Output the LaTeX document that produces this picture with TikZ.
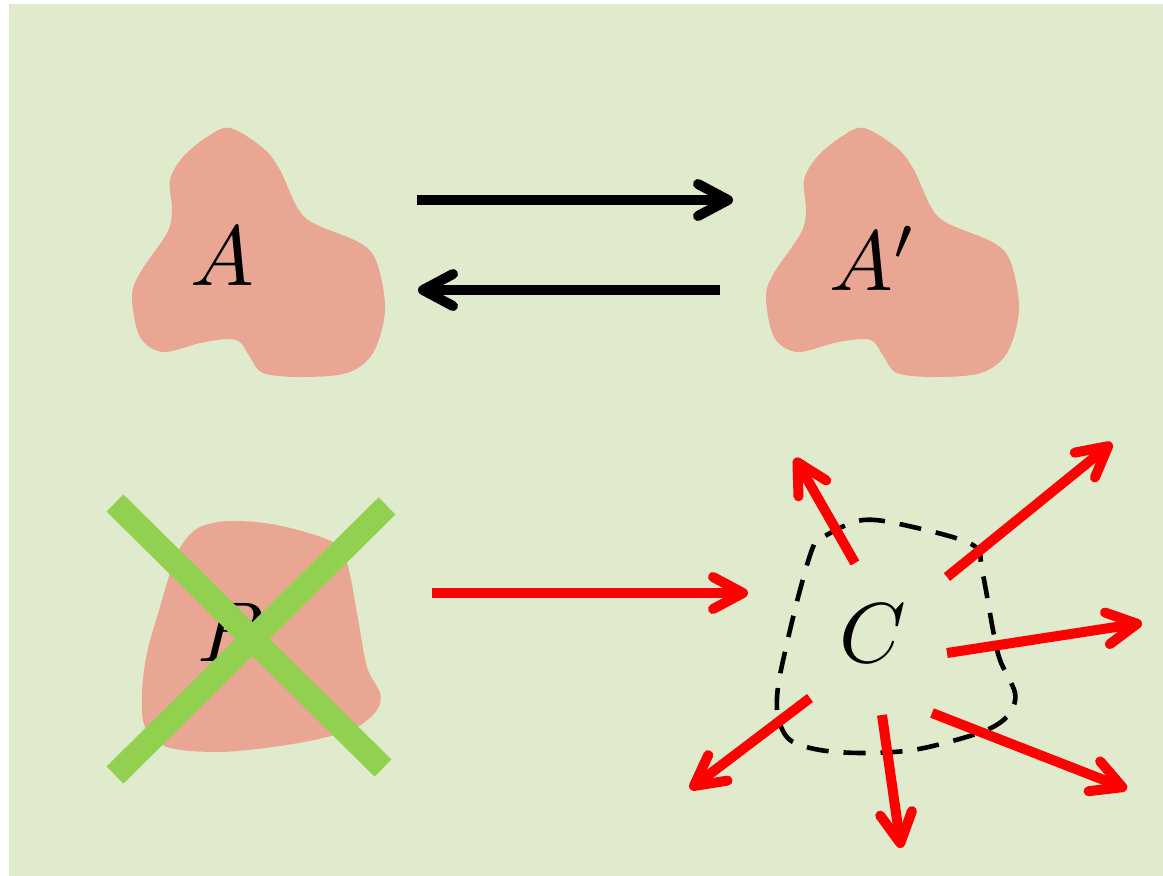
\documentclass[tikz,border=0pt]{standalone}
\usetikzlibrary{arrows.meta}
\definecolor{bgcol}{HTML}{E0EACD}
\definecolor{blobcol}{HTML}{E9A793}
\definecolor{crosscol}{HTML}{92D050}
\definecolor{raycol}{HTML}{FF0000}
\begin{document}
\begin{tikzpicture}[x=1pt,y=-1pt,
  blob/.style={fill=blobcol, draw=none},
  lbl/.style={scale=8.5, inner sep=0pt},
  barb/.style={-{Straight Barb[length=30pt,width=32pt,line cap=round,line join=round]}},
  blackarrow/.style={line width=10pt, barb},
  redarrow/.style={line width=10pt, draw=raycol, barb},
  crossbar/.style={line width=24pt, draw=crosscol},
  region/.style={line width=4.6pt, dash pattern=on 22pt off 15pt}]

\useasboundingbox (0,0) rectangle (1163,876);
\fill[white] (0,0) rectangle (1163,876);
\fill[bgcol] (9,4) rectangle (1163,876);

% blob A and its copy A'
\foreach \dx in {0,634}{
  \begin{scope}[xshift=\dx pt]
  \fill[blob] plot[smooth cycle, tension=0.55] coordinates {
    (230,128) (263,148) (280,170) (297,207) (313,223) (360,243) (377,263)
    (385,310) (373,353) (347,373) (300,377) (263,373) (250,357) (240,342)
    (227,339) (200,343) (163,352) (140,337) (132,297) (140,273) (167,233)
    (172,210) (170,180) (183,157) (207,137)};
  \end{scope}}
\node[lbl] (A) at (222,256) {$A$};
\node[lbl, anchor=base west] (Ap) at (828,290) {$A'$};

% blob B, struck out
\fill[blob] plot[smooth cycle, tension=0.55] coordinates {
  (200,527) (230,521) (277,525) (333,542) (347,563) (357,613) (367,667)
  (380,693) (377,710) (357,727) (323,738) (273,747) (217,752) (167,747)
  (145,727) (142,693) (147,653) (160,607) (172,567) (183,543)};
\node[lbl] (B) at (232,632) {$B$};
\coordinate (x1) at (115,503);
\coordinate (x2) at (383,768);
\coordinate (x3) at (387,506);
\coordinate (x4) at (115,775);
\draw[crossbar] (x1) -- (x2);
\draw[crossbar] (x3) -- (x4);

% region C
\draw[region] plot[smooth cycle, tension=0.55] coordinates {
  (823,537) (863,520) (913,527) (973,545) (982,570) (993,630) (1000,660)
  (1015,693) (1010,713) (993,727) (963,738) (913,750) (863,753) (820,750)
  (790,740) (778,717) (778,687) (787,643) (800,590) (813,547)};
\node[lbl] (C) at (873,633) {$C$};

% arrows between A and A'
\coordinate (ab1) at (417,200);
\coordinate (ab2) at (733,200);
\coordinate (ba1) at (720,290);
\coordinate (ba2) at (418,290);
\draw[blackarrow] (ab1) -- (ab2);
\draw[blackarrow] (ba1) -- (ba2);

% B leads to C
\coordinate (bc1) at (432,593);
\coordinate (bc2) at (748,593);
\draw[redarrow] (bc1) -- (bc2);

% rays leaving C
\coordinate (r1s) at (855,563); \coordinate (r1e) at (795,458);
\coordinate (r2s) at (947,577); \coordinate (r2e) at (1112,443);
\coordinate (r3s) at (947,653); \coordinate (r3e) at (1142,623);
\coordinate (r4s) at (932,713); \coordinate (r4e) at (1127,789);
\coordinate (r5s) at (882,715); \coordinate (r5e) at (901,848);
\coordinate (r6s) at (810,698); \coordinate (r6e) at (690,789);
\foreach \i in {1,...,6}{\draw[redarrow] (r\i s) -- (r\i e);}
\end{tikzpicture}
\end{document}
